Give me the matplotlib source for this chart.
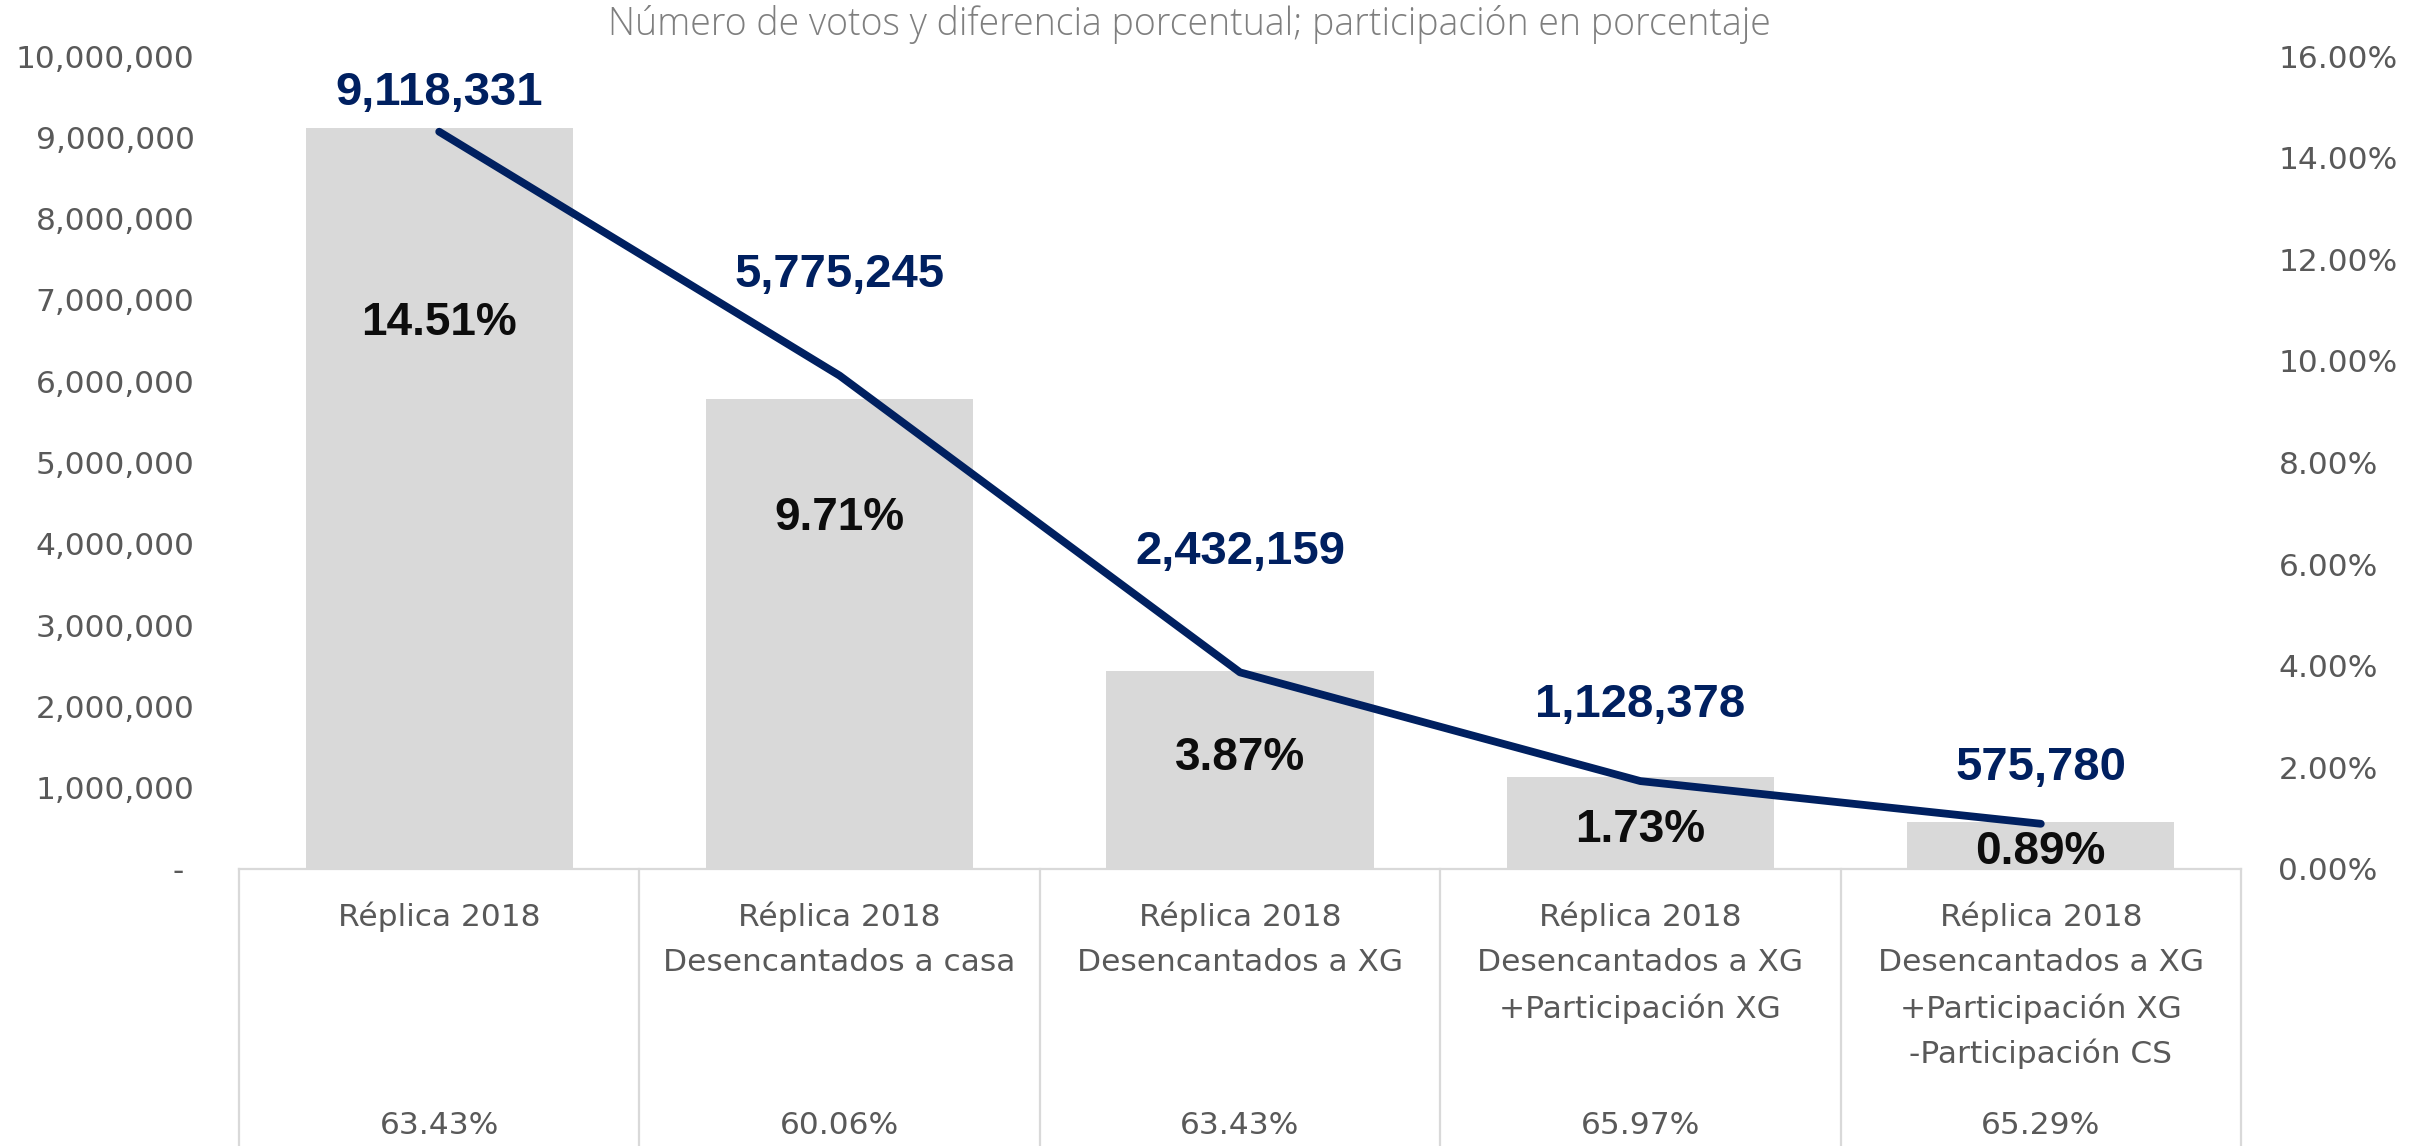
import matplotlib
matplotlib.use("Agg")
import matplotlib.pyplot as plt
import matplotlib.transforms as mtransforms
from matplotlib.ticker import FuncFormatter, FixedLocator

# ---------------- data ----------------
categories = [
    "Réplica 2018",
    "Réplica 2018\nDesencantados a casa",
    "Réplica 2018\nDesencantados a XG",
    "Réplica 2018\nDesencantados a XG\n+Participación XG",
    "Réplica 2018\nDesencantados a XG\n+Participación XG\n-Participación CS",
]
votes = [9118331, 5775245, 2432159, 1128378, 575780]
pct_diff = [14.51, 9.71, 3.87, 1.73, 0.89]
participation = ["63.43%", "60.06%", "63.43%", "65.97%", "65.29%"]
left_ticks = [0, 1000000, 2000000, 3000000, 4000000, 5000000,
              6000000, 7000000, 8000000, 9000000, 10000000]
right_ticks = [0.0, 0.02, 0.04, 0.06, 0.08, 0.10, 0.12, 0.14, 0.16]
title = "Número de votos y diferencia porcentual; participación en porcentaje"

# ---------------- style ----------------
W, H, DPI = 2418, 1146, 100
GRAY = "#595959"
NAVY = "#002060"
BAR = "#d9d9d9"
GRID = "#d9d9d9"
FONT = "DejaVu Sans"
BOLD = "Liberation Sans"

fig = plt.figure(figsize=(W / DPI, H / DPI), dpi=DPI)
x0, x1 = 239, 2241
ytop, ybase = 56, 869
ax = fig.add_axes([x0 / W, 1 - ybase / H, (x1 - x0) / W, (ybase - ytop) / H])
ax2 = ax.twinx()

xs = list(range(len(categories)))
ax.bar(xs, votes, width=0.667, color=BAR, zorder=1)
ax.set_xlim(-0.5, len(categories) - 0.5)
ax.set_ylim(0, 10000000)
ax.yaxis.set_major_locator(FixedLocator(left_ticks))
ax.yaxis.set_major_formatter(FuncFormatter(lambda v, p: "- " if v == 0 else f"{int(v):,}"))
ax.tick_params(axis="y", length=0, pad=32, labelsize=22.5, labelcolor=GRAY)
ax.set_xticks([])

ax2.plot(xs, [p / 100 for p in pct_diff], color=NAVY, lw=5.6,
         solid_capstyle="round", solid_joinstyle="round", zorder=3)
ax2.set_ylim(0, 0.16)
ax2.yaxis.set_major_locator(FixedLocator(right_ticks))
ax2.yaxis.set_major_formatter(FuncFormatter(lambda v, p: f"{v*100:.2f}%"))
ax2.tick_params(axis="y", length=0, pad=27, labelsize=22.5, labelcolor=GRAY)

for a in (ax, ax2):
    for s in a.spines.values():
        s.set_visible(False)
    for lab in a.get_yticklabels():
        lab.set_family(FONT)

# data labels (positions in axes fraction)
vote_label_y = [0.9545, 0.7306, 0.3899, 0.2017, 0.1242]
pct_label_y = [0.6716, 0.4317, 0.1365, 0.048, 0.0209]
blend = mtransforms.blended_transform_factory(ax2.transData, ax2.transAxes)
for i, (v, p) in enumerate(zip(votes, pct_diff)):
    ax2.text(i, vote_label_y[i], f"{v:,}", transform=blend, ha="center", va="center",
             fontsize=34, fontweight="bold", color=NAVY, family=BOLD, zorder=5)
    ax2.text(i, pct_label_y[i], f"{p:.2f}%", transform=blend, ha="center", va="center",
             fontsize=33, fontweight="bold", color="#0d0d0d", family=BOLD, zorder=5)

# table below axis
bottom = -(H - ybase) / (ybase - ytop)
ax2.plot([-0.5, len(categories) - 0.5], [0, 0], transform=blend, color=GRID,
         lw=1.6, clip_on=False, zorder=2)
for b in [i - 0.5 for i in range(len(categories) + 1)]:
    ax2.plot([b, b], [0, bottom], transform=blend, color=GRID, lw=1.6, clip_on=False)

line_h = 45.7 / (ybase - ytop)
first = -(917 - ybase) / (ybase - ytop)
part_y = -(1125 - ybase) / (ybase - ytop)
for i, cat in enumerate(categories):
    for j, line in enumerate(cat.split("\n")):
        ax2.text(i, first - j * line_h, line, transform=blend, ha="center", va="center",
                 fontsize=22.5, color=GRAY, family=FONT, clip_on=False)
    ax2.text(i, part_y, participation[i], transform=blend, ha="center", va="center",
             fontsize=22.5, color=GRAY, family=FONT, clip_on=False)

fig.text(1189 / W, 1 - 25 / H, title, ha="center", va="center", fontsize=27,
         color="#7f7f7f", family="Open Sans", fontweight="light")

fig.savefig("out.png", dpi=DPI, facecolor="white")
